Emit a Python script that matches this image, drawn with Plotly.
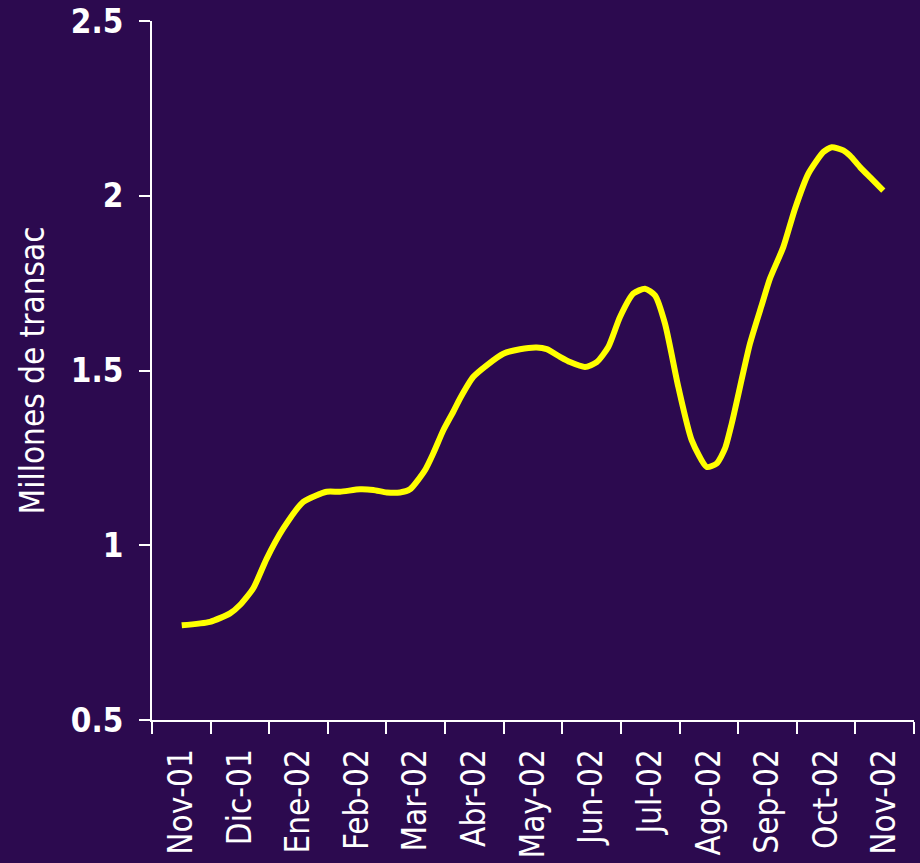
import plotly.graph_objects as go

months = ["Nov-01", "Dic-01", "Ene-02", "Feb-02", "Mar-02", "Abr-02", "May-02",
          "Jun-02", "Jul-02", "Ago-02", "Sep-02", "Oct-02", "Nov-02"]

# position in month units (0 = centre of Nov-01) and value in millions
t = [0.007, 0.490, 0.831, 1.001, 1.228, 1.457, 1.740, 2.081, 2.480, 2.707,
     3.049, 3.276, 3.504, 3.731, 3.902, 4.158, 4.299, 4.470, 4.640, 4.755,
     4.982, 5.210, 5.493, 5.778, 6.063, 6.234, 6.461, 6.631, 6.887, 7.087,
     7.285, 7.484, 7.711, 7.911, 8.081, 8.252, 8.479, 8.707, 8.963, 9.134,
     9.276, 9.390, 9.702, 9.902, 10.043, 10.270, 10.470, 10.697, 10.953, 11.096,
     11.294, 11.408, 11.579, 11.749, 11.976]
transac = [0.771, 0.781, 0.805, 0.829, 0.877, 0.962, 1.048, 1.124, 1.153, 1.153,
           1.160, 1.158, 1.151, 1.151, 1.160, 1.215, 1.263, 1.329, 1.382, 1.420,
           1.482, 1.515, 1.548, 1.561, 1.566, 1.561, 1.539, 1.524, 1.510, 1.524,
           1.567, 1.653, 1.720, 1.734, 1.715, 1.634, 1.453, 1.301, 1.224, 1.234,
           1.277, 1.348, 1.577, 1.687, 1.763, 1.853, 1.963, 2.063, 2.125, 2.139,
           2.130, 2.115, 2.082, 2.053, 2.015]

y_ticks = [0.5, 1, 1.5, 2, 2.5]
y_ticktext = ["0.5", "1", "1.5", "2", "2.5"]

bg = "#2C0A4F"
FONT = "DejaVu Sans Condensed, Liberation Sans, sans-serif"

fig = go.Figure()
fig.add_trace(go.Scatter(
    x=t, y=transac, mode="lines",
    line=dict(color="#FFFF00", width=6, shape="spline", smoothing=0.6),
    showlegend=False, hoverinfo="skip"))

fig.update_layout(
    width=920, height=863,
    paper_bgcolor=bg, plot_bgcolor=bg,
    margin=dict(l=152, r=6, t=21, b=143, autoexpand=False),
    font=dict(family=FONT, color="white"),
)

fig.update_xaxes(
    range=[-0.5, len(months) - 0.5],
    tickmode="array",
    tickvals=list(range(len(months))),
    ticktext=months,
    ticks="",
    tickangle=-90,
    ticklabelstandoff=14,
    tickfont=dict(family=FONT, size=33, color="white"),
    showline=True, linecolor="white", linewidth=2,
    showgrid=False, zeroline=False,
    minor=dict(tickmode="array",
               tickvals=[i - 0.5 for i in range(len(months) + 1)],
               ticks="outside", ticklen=12, tickwidth=2, tickcolor="white",
               showgrid=False),
)

fig.update_yaxes(
    range=[0.5, 2.5],
    tickmode="array", tickvals=y_ticks, ticktext=y_ticktext,
    ticks="outside", ticklen=11, tickwidth=2, tickcolor="white",
    ticklabelstandoff=9,
    tickfont=dict(family=FONT, size=33, color="white", weight="bold"),
    showline=True, linecolor="white", linewidth=2,
    showgrid=False, zeroline=False,
    title=dict(text="Millones de transac",
               font=dict(family=FONT, size=33, color="white"),
               standoff=16),
)

fig.write_html("out.html",
               config={"displayModeBar": False},
               post_script="document.body.style.margin='0';document.body.style.background='%s';" % bg)
